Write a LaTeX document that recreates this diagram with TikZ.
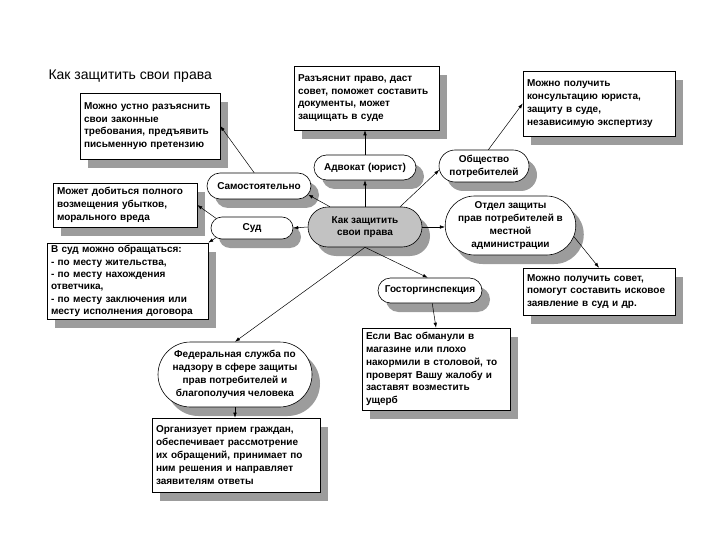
\documentclass[tikz,border=0pt]{standalone}
\usepackage{fontspec}
\setmainfont{Liberation Sans}
\usetikzlibrary{shapes.misc,shadows,arrows.meta}
\definecolor{shad}{HTML}{9C9C9C}
\definecolor{cfill}{HTML}{C2C2C2}
\begin{document}
\begin{tikzpicture}[x=1pt,y=-1pt,
  every node/.style={font=\bfseries\fontsize{10}{12.8}\selectfont},
  sh/.style={general shadow={fill=shad, shadow xshift=8pt, shadow yshift=-9pt}},
  box/.style={draw, fill=white, rectangle, align=left, inner xsep=4pt, inner ysep=2pt, line width=0.6pt, sh},
  pill/.style={draw, fill=white, rounded rectangle, align=center, inner sep=1pt, line width=0.6pt, sh},
  arr/.style={-{Latex[length=5pt,width=3.5pt]}, line width=0.5pt}
]
\useasboundingbox (0,0) rectangle (720,540);

\node[anchor=base west, font=\fontsize{14}{16}\selectfont] (title) at (45,80) {Как защитить свои права};

% rectangles
\node[box, text width=132pt, minimum height=66pt] (A) at (150,126)
  {Можно устно разъяснить\\свои законные\\требования, предъявить\\письменную претензию};
\node[box, text width=137pt, minimum height=64pt] (B) at (366.5,98)
  {Разъяснит право, даст\\совет, поможет составить\\документы, может\\защищать в суде};
\node[box, text width=144pt, minimum height=65pt] (C) at (599,103.5)
  {Можно получить\\консультацию юриста,\\защиту в суде,\\независимую экспертизу};
\node[box, text width=136pt, minimum height=44pt] (D) at (125,205)
  {Может добиться полного\\возмещения убытков,\\морального вреда};
\node[box, text width=153pt, minimum height=76pt, font=\bfseries\fontsize{10}{12.3}\selectfont] (E) at (127.5,281)
  {В суд можно обращаться:\\- по месту жительства,\\- по месту нахождения\\ответчика,\\- по месту заключения или\\месту исполнения договора};
\node[box, text width=144pt, minimum height=47pt] (F) at (599,291.5)
  {Можно получить совет,\\помогут составить исковое\\заявление в суд и др.};
\node[box, text width=140pt, minimum height=82pt] (G) at (436,369)
  {Если Вас обманули в\\магазине или плохо\\накормили в столовой, то\\проверят Вашу жалобу и\\заставят возместить\\ущерб};
\node[box, text width=160pt, minimum height=74pt] (H) at (236,455)
  {Организует прием граждан,\\обеспечивает рассмотрение\\их обращений, принимает по\\ним решения и направляет\\заявителям ответы};

% rounded nodes
\node[pill, fill=cfill, minimum width=116pt, minimum height=40pt] (cent) at (365,227) {Как защитить\\свои права};
\node[pill, minimum width=106pt, minimum height=26pt] (sam) at (259,186) {Самостоятельно};
\node[pill, minimum width=84pt, minimum height=22pt] (sud) at (252,228) {Суд};
\node[pill, minimum width=104pt, minimum height=25pt] (adv) at (365,167.5) {Адвокат (юрист)};
\node[pill, minimum width=92pt, minimum height=32pt] (obs) at (484,166) {Общество\\потребителей};
\node[pill, minimum width=125pt, minimum height=59pt] (otd) at (510.5,225.5) {Отдел защиты\\прав потребителей в\\местной\\администрации};
\node[pill, minimum width=106pt, minimum height=25pt] (gos) at (430,290.5) {Госторгинспекция};
\node[pill, minimum width=156pt, minimum height=65pt] (fed) at (235,374.5) {Федеральная служба по\\надзору в сфере защиты\\прав потребителей и\\благополучия человека};

% connectors
\draw[arr] (cent.north) -- (adv.south);
\draw[arr] (adv.north) -- (adv.north |- B.south);
\draw[arr] (cent.30) -- (obs.185);
\draw[arr] (obs.75) -- (C.west);
\draw[arr] (cent.east) -- (cent.east -| otd.west);
\draw[arr] (otd.-10) -- (F.north);
\draw[arr] (cent.150) -- (sam.-10);
\draw[arr] (sam.110) -- (A.east);
\draw[arr] (cent.west) -- (sud.east);
\draw[arr] (sud.165) -- (D.east);
\draw[arr] (sud.195) -- (E.north east);
\draw[arr] (cent.south) -- (gos.100);
\draw[arr] (gos.-80) -- (G.north);
\draw[arr] (cent.south) -- (fed.north);
\draw[arr] (fed.south) -- (fed.south |- H.north);
\end{tikzpicture}
\end{document}
